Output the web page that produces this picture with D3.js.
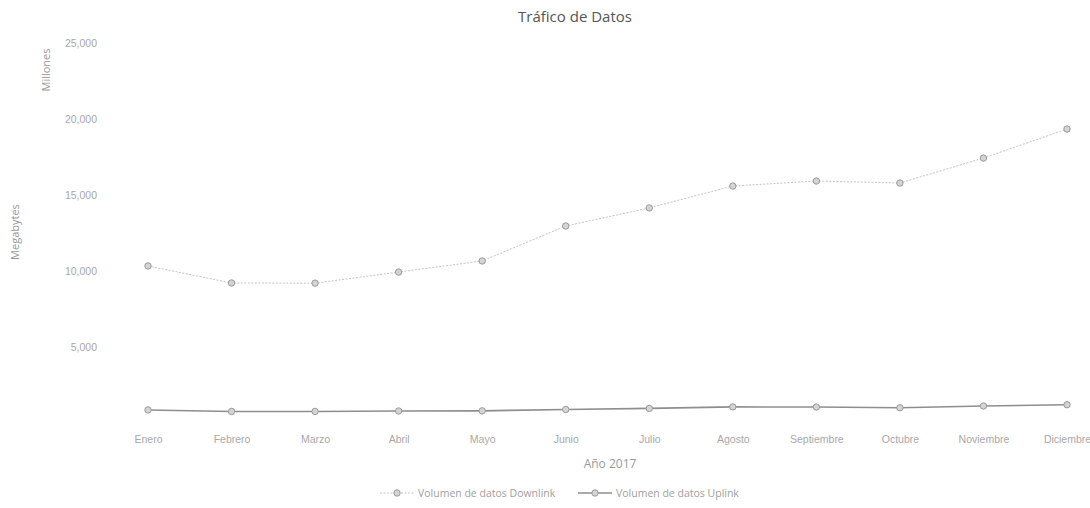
<!DOCTYPE html>
<html lang="es">
    <head>
        <meta charset="UTF-8">
        <script src="https://d3js.org/d3.v7.min.js"></script>
        <style>
            body { margin: 0; background: #fff; }
            svg { font-family: "Open Sans", "Noto Sans", sans-serif; }
            .tick text { fill: #a8a8a8; font-size: 10.5px; }
            .domain, .tick line { display: none; }
        </style>
    </head>
    <body>
        <svg width="1090" height="508"></svg>

        <script>
            // datos
            const meses = ["Enero", "Febrero", "Marzo", "Abril", "Mayo", "Junio", "Julio",
                "Agosto", "Septiembre", "Octubre", "Noviembre", "Diciembre"];
            const downlink = [10330, 9210, 9200, 9930, 10660, 12960, 14150, 15590, 15920, 15790, 17430, 19340];
            const uplink = [860, 760, 760, 790, 800, 890, 960, 1060, 1050, 1000, 1120, 1200];
            const yTicks = [5000, 10000, 15000, 20000, 25000];
            const series = [
                { name: "Volumen de datos Downlink", values: downlink, color: "#c4c4c4", width: 1, dash: "2,1.5" },
                { name: "Volumen de datos Uplink", values: uplink, color: "#8e8e8e", width: 1.6, dash: null }
            ];

            const svg = d3.select("svg");

            // escalas
            const x = d3.scalePoint().domain(meses).range([148, 1067]);
            const y = d3.scaleLinear().domain([0, 25000]).range([423, 43]);

            // eje Y
            svg.append("g")
                .attr("transform", "translate(97,0)")
                .call(d3.axisLeft(y).tickValues(yTicks).tickSize(0).tickPadding(0).tickFormat(d3.format(",")));

            // eje X
            svg.append("g")
                .attr("transform", "translate(0,436)")
                .call(d3.axisBottom(x).tickSize(0).tickPadding(0));

            // lineas
            const line = d3.line().x((d, i) => x(meses[i])).y(d => y(d));

            series.forEach(s => {
                svg.append("path")
                    .datum(s.values)
                    .attr("fill", "none")
                    .attr("stroke", s.color)
                    .attr("stroke-width", s.width)
                    .attr("stroke-dasharray", s.dash)
                    .attr("d", line);

                svg.append("g")
                    .selectAll("circle")
                    .data(s.values)
                    .join("circle")
                    .attr("cx", (d, i) => x(meses[i]))
                    .attr("cy", d => y(d))
                    .attr("r", 3.2)
                    .attr("fill", "#d4d4d4")
                    .attr("stroke", "#9a9a9a")
                    .attr("stroke-width", 1);
            });

            // titulos
            svg.append("text")
                .attr("x", 575).attr("y", 22)
                .attr("text-anchor", "middle")
                .attr("font-size", 15)
                .attr("fill", "#555")
                .text("Tráfico de Datos");

            svg.append("text")
                .attr("x", 610).attr("y", 468)
                .attr("text-anchor", "middle")
                .attr("font-size", 12)
                .attr("fill", "#999")
                .text("Año 2017");

            svg.append("text")
                .attr("transform", "translate(19,232) rotate(-90)")
                .attr("text-anchor", "middle")
                .attr("font-size", 11)
                .attr("fill", "#999")
                .text("Megabytes");

            svg.append("text")
                .attr("transform", "translate(50,70) rotate(-90)")
                .attr("text-anchor", "middle")
                .attr("font-size", 11)
                .attr("fill", "#999")
                .text("Millones");

            // leyenda
            const legendX = [380, 578];
            const legend = svg.append("g")
                .selectAll("g")
                .data(series)
                .join("g")
                .attr("transform", (d, i) => `translate(${legendX[i]},493)`);

            legend.append("line")
                .attr("x1", 0).attr("x2", 34)
                .attr("stroke", d => d.color)
                .attr("stroke-width", d => d.width)
                .attr("stroke-dasharray", d => d.dash);

            legend.append("circle")
                .attr("cx", 17).attr("r", 3.2)
                .attr("fill", "#d4d4d4")
                .attr("stroke", "#9a9a9a");

            legend.append("text")
                .attr("x", 38).attr("dy", "0.35em")
                .attr("font-size", 10.5)
                .attr("fill", "#a0a0a0")
                .text(d => d.name);
        </script>
    </body>
</html>
